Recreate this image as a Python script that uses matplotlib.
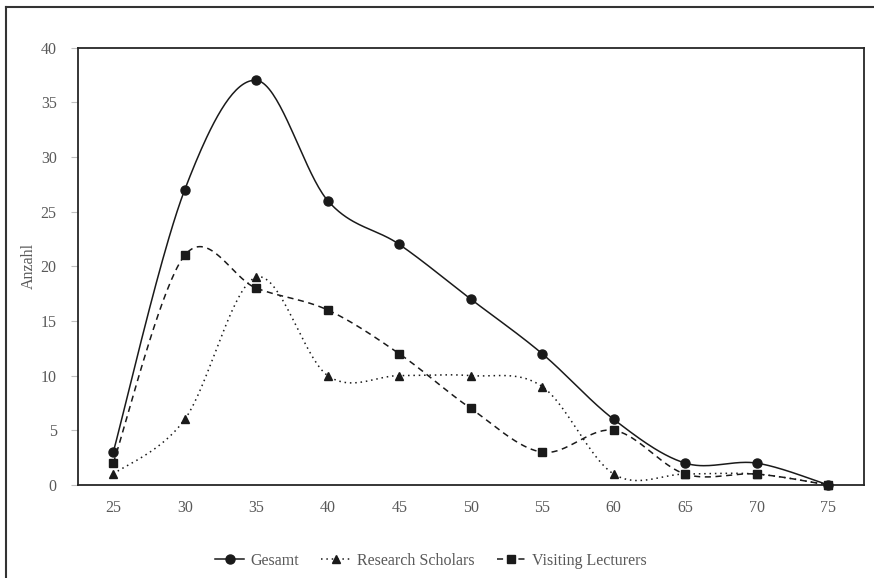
# -*- coding: utf-8 -*-
import numpy as np
import matplotlib
matplotlib.use("Agg")
import matplotlib.pyplot as plt
from matplotlib.lines import Line2D

# Daten
alter = [25, 30, 35, 40, 45, 50, 55, 60, 65, 70, 75]
gesamt = [3, 27, 37, 26, 22, 17, 12, 6, 2, 2, 0]
research_scholars = [1, 6, 19, 10, 10, 10, 9, 1, 1, 1, 0]
visiting_lecturers = [2, 21, 18, 16, 12, 7, 3, 5, 1, 1, 0]
y_ticks = [0, 5, 10, 15, 20, 25, 30, 35, 40]

plt.rcParams['font.family'] = ['Liberation Serif', 'DejaVu Serif']
text_col = '#595959'


def smooth(xs, ys, n=40):
    # Excel-artige Glättung (Catmull-Rom als kubische Bezier-Kurven)
    xs = np.asarray(xs, float)
    ys = np.asarray(ys, float)
    px = np.concatenate([[xs[0]], xs, [xs[-1]]])
    py = np.concatenate([[ys[0]], ys, [ys[-1]]])
    out_x, out_y = [], []
    t = np.linspace(0, 1, n)
    for i in range(1, len(px) - 2):
        p0 = np.array([px[i], py[i]])
        p3 = np.array([px[i + 1], py[i + 1]])
        c1 = p0 + (p3 - np.array([px[i - 1], py[i - 1]])) / 6.0
        c2 = p3 - (np.array([px[i + 2], py[i + 2]]) - p0) / 6.0
        b = ((1 - t) ** 3)[:, None] * p0 + (3 * (1 - t) ** 2 * t)[:, None] * c1 \
            + (3 * (1 - t) * t ** 2)[:, None] * c2 + (t ** 3)[:, None] * p3
        out_x.extend(b[:, 0])
        out_y.extend(b[:, 1])
    return np.array(out_x), np.array(out_y)


fig = plt.figure(figsize=(8.74, 5.78), dpi=100)
ax = fig.add_axes([77.5 / 874, 1 - 485 / 578, (864 - 77.5) / 874, (485 - 47.5) / 578])

serien = [
    (gesamt, 'Gesamt', '-', 'o', 6.5),
    (research_scholars, 'Research Scholars', (0, (1, 2.5)), '^', 5.5),
    (visiting_lecturers, 'Visiting Lecturers', (0, (4, 3)), 's', 6),
]

handles = []
for werte, name, ls, mk, ms in serien:
    sx, sy = smooth(alter, werte)
    ax.plot(sx, sy, color='#1a1a1a', lw=1.1, linestyle=ls, clip_on=False)
    ax.plot(alter, werte, linestyle='none', marker=mk, ms=ms, color='#1a1a1a', clip_on=False, zorder=3)
    handles.append(Line2D([], [], color='#1a1a1a', lw=1.1, linestyle=ls, marker=mk, ms=ms))

ax.set_xlim(22.5, 77.5)
ax.set_ylim(0, 40)
ax.set_xticks(alter)
ax.set_yticks(y_ticks)
ax.tick_params(axis='x', length=0, pad=11, labelsize=11.5, labelcolor=text_col)
ax.tick_params(axis='y', length=5, width=0.8, color='#bfbfbf', pad=10, labelsize=11.5, labelcolor=text_col)
for s in ax.spines.values():
    s.set_color('#262626')
    s.set_linewidth(1.3)
ax.set_ylabel('Anzahl', color=text_col, fontsize=11.5, labelpad=3)

fig.legend(handles, [s[1] for s in serien], loc='center', bbox_to_anchor=(0.493, 0.03),
           ncol=3, frameon=False, fontsize=11.5, labelcolor=text_col,
           handlelength=1.8, columnspacing=1.4, handletextpad=0.4)

# äußerer Rahmen (nur oben und links sichtbar)
fig.add_artist(Line2D([6 / 874, 1], [1 - 7 / 578, 1 - 7 / 578], color='#333333', lw=1.5, transform=fig.transFigure))
fig.add_artist(Line2D([6 / 874, 6 / 874], [0, 1 - 7 / 578], color='#333333', lw=1.5, transform=fig.transFigure))

fig.savefig('out.png', dpi=100)
